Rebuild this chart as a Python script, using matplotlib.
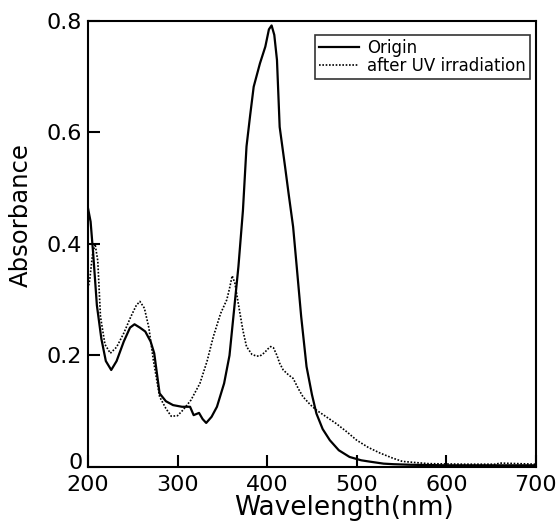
import matplotlib
matplotlib.use("Agg")
import matplotlib.pyplot as plt
import matplotlib.transforms as mtransforms
import numpy as np

plt.rcParams['font.family'] = ['DejaVu Sans']

# solid curve: original sample
origin_wl = [200, 203, 206, 210, 215, 220, 226, 232, 240, 247, 252, 258, 264, 270, 274, 280,
             287, 295, 305, 314, 318, 324, 328, 332, 338, 344, 352, 358, 363, 368, 373, 377,
             381, 385, 392, 398, 402, 405, 408, 411, 414, 420, 424, 429, 433, 438, 444, 450, 455,
             462, 470, 480, 492, 505, 515, 530, 541, 560, 600, 650, 700]
origin_abs = [0.465, 0.44, 0.38, 0.29, 0.23, 0.19, 0.174, 0.19, 0.225, 0.25, 0.256, 0.25, 0.243,
              0.225, 0.204, 0.132, 0.118, 0.111, 0.108, 0.108, 0.093, 0.097, 0.086, 0.079, 0.09,
              0.108, 0.15, 0.2, 0.28, 0.36, 0.46, 0.575, 0.63, 0.682, 0.724, 0.754, 0.785, 0.792,
              0.775, 0.73, 0.61, 0.539, 0.49, 0.431, 0.36, 0.27, 0.18, 0.13, 0.096, 0.068, 0.048,
              0.03, 0.018, 0.012, 0.0095, 0.006, 0.005, 0.004, 0.003, 0.003, 0.003]

# dotted curve: after UV irradiation
uv_wl = [200, 202, 205, 208, 211, 214, 219, 225, 232, 240, 248, 254, 258, 263, 268, 273, 280,
         287, 293, 300, 306, 315, 325, 333, 340, 348, 355, 358, 361, 364, 369, 373, 377, 383,
         388, 392, 397, 401, 404, 407, 411, 414, 418, 424, 429, 435, 440, 448, 455, 466, 477,
         489, 500, 513, 526, 540, 551, 580, 620, 655, 660, 700]
uv_abs = [0.32, 0.335, 0.38, 0.40, 0.37, 0.27, 0.22, 0.204, 0.215, 0.24, 0.27, 0.29, 0.297, 0.285,
          0.25, 0.192, 0.126, 0.105, 0.091, 0.092, 0.102, 0.12, 0.15, 0.19, 0.234, 0.275, 0.3,
          0.32, 0.343, 0.33, 0.282, 0.245, 0.216, 0.202, 0.199, 0.199, 0.205, 0.212, 0.216, 0.214,
          0.2, 0.186, 0.174, 0.165, 0.159, 0.14, 0.126, 0.112, 0.102, 0.09, 0.078, 0.063, 0.048,
          0.035, 0.025, 0.016, 0.01, 0.006, 0.005, 0.005, 0.007, 0.005]

fig = plt.figure(figsize=(5.6, 5.25), dpi=100)
ax = fig.add_axes([0.157, 0.1105, 0.8, 0.8495])

ax.plot(origin_wl, origin_abs, color='black', lw=1.6, label='Origin')
ax.plot(uv_wl, uv_abs, color='black', lw=1.2, linestyle=(0, (1, 1)), label='after UV irradiation')

ax.set_xlim(200, 700)
ax.set_ylim(0, 0.8)
ax.set_xticks([200, 300, 400, 500, 600, 700])
ax.set_yticks([0, 0.2, 0.4, 0.6, 0.8])
ax.set_yticklabels(['0', '0.2', '0.4', '0.6', '0.8'])
ax.tick_params(direction='in', length=8.5, width=1.5, labelsize=16)
ax.tick_params(axis='x', pad=6)
ax.tick_params(axis='y', pad=4)
for s in ax.spines.values():
    s.set_linewidth(1.5)

# nudge the "0" label up so it clears the "200" label
zero_lbl = ax.get_yticklabels()[0]
zero_lbl.set_transform(zero_lbl.get_transform() +
                       mtransforms.ScaledTranslation(0, 4 / 72, fig.dpi_scale_trans))

ax.set_xlabel('Wavelength(nm)', fontsize=19)
ax.xaxis.set_label_coords(0.571, -0.062)
ax.set_ylabel('Absorbance', fontsize=17.5)
ax.yaxis.set_label_coords(-0.124, 0.565)

leg = ax.legend(loc='upper right', bbox_to_anchor=(0.987, 0.969), borderaxespad=0,
                fontsize=12, frameon=True, fancybox=False, edgecolor='black',
                handlelength=2.4, borderpad=0.25, labelspacing=0.0, handletextpad=0.5)
leg.get_frame().set_linewidth(1.2)

fig.savefig('out.png', dpi=100)
